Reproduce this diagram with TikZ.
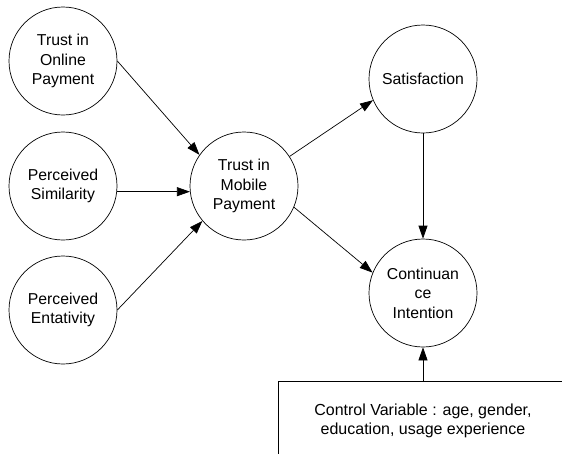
\documentclass[tikz,border=0pt]{standalone}
\usepackage{fontspec}
\setmainfont{Liberation Sans}
\usetikzlibrary{arrows.meta}
\tikzset{
  construct/.style={circle, draw, line width=0.7pt, minimum size=108pt, inner sep=0pt,
    align=center, font=\fontsize{15.8}{19.5}\selectfont},
  path/.style={line width=0.7pt, -{Triangle[length=13pt,width=9pt]}},
  ctrlbox/.style={draw=none, minimum width=288pt, minimum height=78pt, inner sep=0pt,
    align=center, font=\fontsize{16}{19}\selectfont}
}
\begin{document}
\begin{tikzpicture}[x=1pt, y=-1pt]
  \useasboundingbox (0,0) rectangle (562,453);
  \clip (0,0) rectangle (562,453);

  % antecedents
  \node[construct] (online) at (63,61)  {Trust in\\Online\\Payment};
  \node[construct] (sim)    at (63,186) {Perceived\\Similarity};
  \node[construct] (ent)    at (63,310) {Perceived\\Entativity};

  % mediator and outcomes
  \node[construct] (mobile) at (244,186) {Trust in\\Mobile\\Payment};
  \node[construct] (sat)    at (423,79)  {Satisfaction};
  \node[construct] (cont)   at (423,293) {Continuan\\ce\\Intention};

  % control variables box (open to the right and below)
  \node[ctrlbox] (ctrl) at (423,421) {Control Variable : age, gender,\\education, usage experience};
  \draw[line width=0.7pt] (ctrl.south west) -- (ctrl.north west) -- (ctrl.north east);

  % paths
  \draw[path] (online.east) -- (mobile.145);
  \draw[path] (sim.-6) -- (mobile.186);
  \draw[path] (ent.east) -- (mobile.220);
  \draw[path] (mobile.33) -- (sat.203);
  \draw[path] (mobile.-23) -- (cont.158);
  \draw[path] (sat.south) -- (cont.north);
  \draw[path] (ctrl.north) -- (cont.south);
\end{tikzpicture}
\end{document}
